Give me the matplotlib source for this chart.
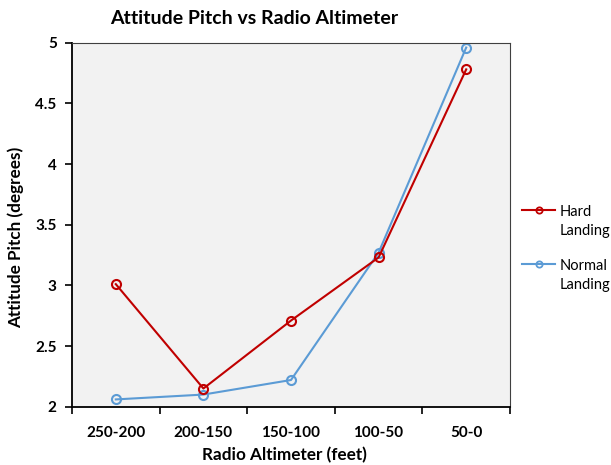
import matplotlib
matplotlib.use("Agg")
import matplotlib.pyplot as plt
from matplotlib.lines import Line2D
from matplotlib.ticker import FixedLocator, NullFormatter, FixedFormatter

categories = ["250-200", "200-150", "150-100", "100-50", "50-0"]
hard_landing = [3.01, 2.15, 2.71, 3.23, 4.78]
normal_landing = [2.06, 2.10, 2.22, 3.27, 4.96]
series_names = ["Hard\nLanding", "Normal\nLanding"]
y_ticks = [2, 2.5, 3, 3.5, 4, 4.5, 5]
y_tick_labels = ["2", "2.5", "3", "3.5", "4", "4.5", "5"]

plt.rcParams["font.family"] = ["Lato", "DejaVu Sans"]

W, H = 611, 465
fig = plt.figure(figsize=(W / 100, H / 100), dpi=100)
ax = fig.add_axes([72 / W, 1 - 406.7 / H, (510 - 72) / W, (406.7 - 42.7) / H])
ax.set_facecolor("#F2F2F2")

x = list(range(len(categories)))
red = "#C00000"
blue = "#5B9BD5"
colors = [red, blue]
ax.plot(x, hard_landing, color=red, lw=1.5, marker="o", ms=6.5,
        mfc="none", mec=red, mew=1.5, zorder=3)
ax.plot(x, normal_landing, color=blue, lw=1.5, marker="o", ms=6.5,
        mfc="none", mec=blue, mew=1.5, zorder=2)

ax.set_xlim(-0.5, len(categories) - 0.5)
ax.set_ylim(2, 5)

# Category ticks sit between the groups, labels in the middle
ax.xaxis.set_major_locator(FixedLocator([i - 0.5 for i in range(len(categories) + 1)]))
ax.xaxis.set_major_formatter(NullFormatter())
ax.xaxis.set_minor_locator(FixedLocator(x))
ax.xaxis.set_minor_formatter(FixedFormatter(categories))
ax.tick_params(axis="x", which="major", direction="out", length=5, width=1.2, color="black")
ax.tick_params(axis="x", which="minor", length=0, pad=14, labelsize=11)
for lbl in ax.get_xticklabels(minor=True):
    lbl.set_fontweight("bold")

ax.set_yticks(y_ticks)
ax.set_yticklabels(y_tick_labels, fontsize=11, fontweight="bold")
ax.tick_params(axis="y", direction="out", length=5, width=1.2, color="black", pad=6)

for side in ["left", "bottom"]:
    ax.spines[side].set_color("black")
    ax.spines[side].set_linewidth(1.3)
for side in ["top", "right"]:
    ax.spines[side].set_color("#404040")
    ax.spines[side].set_linewidth(0.8)

fig.text(254 / W, 1 - 18 / H, "Attitude Pitch vs Radio Altimeter",
         ha="center", va="center", fontsize=14, fontweight="bold")
fig.text(284 / W, 1 - 455 / H, "Radio Altimeter (feet)",
         ha="center", va="center", fontsize=12.3, fontweight="bold")
fig.text(16 / W, 1 - 237 / H, "Attitude Pitch (degrees)",
         ha="center", va="center", rotation=90, fontsize=12.3, fontweight="bold")

# Legend: line sample aligned with the first line of each two-line label
legend_rows = [210, 264]
for name, color, row in zip(series_names, colors, legend_rows):
    yf = 1 - row / H
    fig.add_artist(Line2D([522 / W, 555 / W], [yf, yf], color=color, lw=1.5,
                          transform=fig.transFigure))
    fig.add_artist(Line2D([538.5 / W], [yf], color=color, marker="o", ms=4.5,
                          mfc="none", mew=1.3, transform=fig.transFigure))
    first, second = name.split("\n")
    fig.text(560 / W, yf, first, ha="left", va="center_baseline", fontsize=10.5)
    fig.text(560 / W, 1 - (row + 19) / H, second, ha="left",
             va="center_baseline", fontsize=10.5)

fig.savefig("out.png", dpi=100)
